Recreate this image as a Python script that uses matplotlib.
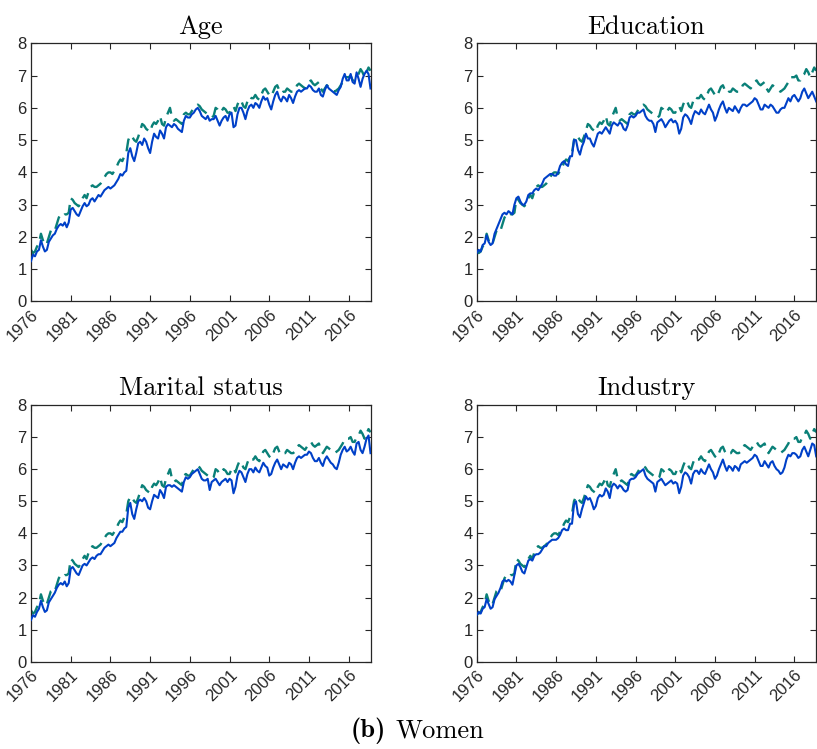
import numpy as np
import matplotlib
matplotlib.use("Agg")
import matplotlib.pyplot as plt

# ---------------- data (quarterly readings, 1976Q1 .. 2018Q4) ----------------
start_year = 1976
tick_years = [1976, 1981, 1986, 1991, 1996, 2001, 2006, 2011, 2016]
y_ticks = [0, 1, 2, 3, 4, 5, 6, 7, 8]
panel_titles = ["Age", "Education", "Marital status", "Industry"]
caption_bold = "(b)"
caption_text = "Women"

actual_gap = [
    1.6, 1.5, 1.55, 1.7,   1.8, 2.1, 1.9, 1.75,   1.8, 2.0, 2.2, 2.25,
    2.2, 2.4, 2.6, 2.7,    2.65, 2.7, 2.7, 2.75,  3.2, 3.15, 3.05, 3.0,
    2.95, 3.05, 3.2, 3.3,  3.2, 3.4, 3.55, 3.6,   3.55, 3.55, 3.6, 3.65,
    3.75, 3.85, 3.95, 4.0, 4.0, 3.95, 4.05, 4.15, 4.3, 4.4, 4.35, 4.5,
    4.6, 5.0, 5.15, 5.1,   5.0, 4.95, 5.1, 5.3,   5.5, 5.45, 5.35, 5.3,
    5.25, 5.45, 5.55, 5.5, 5.6, 5.75, 5.5, 5.45,  5.7, 5.85, 6.0, 5.7,
    5.6, 5.65, 5.6, 5.55,  5.5, 5.8, 5.85, 5.8,   5.8, 5.9, 6.0, 6.05,
    6.1, 6.05, 5.95, 5.9,  5.85, 5.8, 5.75, 5.7,  5.75, 6.0, 5.95, 5.85,
    5.9, 6.0, 5.95, 5.85,  5.85, 6.0, 6.05, 5.9,  6.1, 6.25, 6.2, 6.05,
    6.0, 6.2, 6.35, 6.3,   6.3, 6.4, 6.3, 6.25,   6.4, 6.55, 6.6, 6.5,
    6.4, 6.35, 6.5, 6.65,  6.7, 6.55, 6.45, 6.5,  6.5, 6.6, 6.55, 6.5,
    6.5, 6.55, 6.7, 6.75,  6.7, 6.65, 6.6, 6.7,   6.8, 6.85, 6.75, 6.7,
    6.75, 6.8, 6.6, 6.5,   6.6, 6.7, 6.65, 6.6,   6.55, 6.5, 6.55, 6.6,
    6.7, 6.8, 6.95, 6.95,  6.95, 7.0, 6.85, 6.85, 7.0, 7.05, 7.2, 7.1,
    6.95, 7.1, 7.25, 7.15,
]

age_gap = [
    1.25, 1.45, 1.4, 1.55,  1.6, 1.9, 1.7, 1.55,   1.6, 1.85, 1.95, 2.05,
    2.1, 2.25, 2.35, 2.4,   2.35, 2.45, 2.3, 2.45, 2.85, 2.9, 2.8, 2.7,
    2.65, 2.8, 2.95, 3.05,  2.95, 3.0, 3.15, 3.2,  3.1, 3.2, 3.3, 3.25,
    3.35, 3.45, 3.5, 3.55,  3.5, 3.55, 3.6, 3.7,   3.8, 3.95, 3.9, 4.0,
    4.05, 4.6, 4.75, 4.5,   4.35, 4.6, 4.9, 4.95,  4.85, 5.05, 4.95, 4.75,
    4.6, 4.95, 5.2, 5.1,    5.05, 5.3, 5.2, 5.05,  5.4, 5.5, 5.45, 5.4,
    5.5, 5.45, 5.35, 5.3,   5.25, 5.6, 5.75, 5.7,  5.7, 5.8, 5.85, 5.95,
    6.0, 5.9, 5.75, 5.7,    5.65, 5.75, 5.6, 5.65, 5.65, 5.75, 5.6, 5.45,
    5.6, 5.7, 5.75, 5.6,    5.8, 5.85, 5.4, 5.45,  5.8, 6.0, 6.0, 5.85,
    5.65, 5.9, 6.05, 6.1,   6.0, 6.15, 6.1, 6.0,   6.2, 6.35, 6.25, 6.3,
    6.1, 5.95, 6.2, 6.4,    6.5, 6.3, 6.2, 6.35,   6.3, 6.2, 6.4, 6.3,
    6.15, 6.35, 6.5, 6.55,  6.5, 6.55, 6.6, 6.6,   6.7, 6.65, 6.55, 6.5,
    6.5, 6.6, 6.4, 6.35,    6.55, 6.7, 6.6, 6.55,  6.5, 6.45, 6.4, 6.55,
    6.65, 6.9, 7.05, 6.85,  6.85, 7.05, 6.8, 6.75, 7.1, 6.9, 6.65, 6.9,
    7.05, 7.15, 7.05, 6.6,
]

education_gap = [
    1.5, 1.6, 1.55, 1.75,   1.8, 2.05, 1.85, 1.75,  1.8, 2.1, 2.25, 2.4,
    2.55, 2.7, 2.75, 2.7,   2.8, 2.75, 2.7, 3.0,    3.2, 3.25, 3.1, 3.0,
    3.0, 3.1, 3.3, 3.35,    3.35, 3.45, 3.5, 3.45,  3.55, 3.65, 3.8, 3.85,
    3.9, 3.95, 3.95, 3.9,   3.9, 4.0, 4.2, 4.3,     4.35, 4.25, 4.2, 4.5,
    4.5, 5.0, 5.0, 4.7,     4.55, 4.8, 4.95, 5.2,   5.05, 5.05, 4.9, 4.8,
    5.0, 5.2, 5.25, 5.2,    5.3, 5.4, 5.3, 5.2,     5.45, 5.55, 5.5, 5.45,
    5.55, 5.5, 5.35, 5.3,   5.45, 5.7, 5.75, 5.7,   5.75, 5.85, 5.85, 5.9,
    5.95, 5.75, 5.65, 5.6,  5.6, 5.5, 5.25, 5.55,   5.6, 5.65, 5.55, 5.4,
    5.5, 5.6, 5.65, 5.55,   5.6, 5.5, 5.2, 5.35,    5.7, 5.8, 5.75, 5.65,
    5.5, 5.75, 5.9, 5.85,   5.8, 5.95, 5.85, 5.8,   5.95, 6.1, 5.95, 5.85,
    5.6, 5.75, 5.95, 6.1,   6.2, 6.0, 5.85, 6.0,    5.95, 5.9, 6.05, 5.95,
    5.85, 6.0, 6.1, 6.1,    6.05, 6.1, 6.15, 6.2,   6.3, 6.25, 6.1, 5.95,
    5.95, 6.1, 6.05, 6.0,   6.1, 6.05, 5.95, 5.85,  5.85, 5.95, 6.0, 6.0,
    6.15, 6.3, 6.2, 6.35,   6.4, 6.3, 6.2, 6.3,     6.5, 6.6, 6.45, 6.3,
    6.4, 6.5, 6.35, 6.2,
]

marital_gap = [
    1.3, 1.45, 1.4, 1.55,   1.65, 1.9, 1.7, 1.55,   1.6, 1.85, 1.95, 2.05,
    2.15, 2.3, 2.4, 2.45,   2.4, 2.5, 2.35, 2.45,   2.9, 2.95, 2.85, 2.75,
    2.7, 2.85, 3.0, 3.05,   3.0, 3.1, 3.2, 3.25,    3.2, 3.3, 3.35, 3.35,
    3.45, 3.55, 3.6, 3.65,  3.6, 3.65, 3.7, 3.85,   3.95, 4.05, 4.05, 4.15,
    4.2, 4.8, 4.95, 4.6,    4.45, 4.75, 5.0, 5.05,  5.0, 5.1, 5.0, 4.8,
    4.75, 5.0, 5.2, 5.15,   5.1, 5.35, 5.25, 5.1,   5.45, 5.5, 5.5, 5.45,
    5.5, 5.45, 5.4, 5.35,   5.3, 5.6, 5.75, 5.7,    5.75, 5.85, 5.9, 5.95,
    6.0, 5.85, 5.7, 5.65,   5.65, 5.7, 5.35, 5.6,   5.65, 5.7, 5.6, 5.5,
    5.6, 5.65, 5.7, 5.6,    5.7, 5.65, 5.25, 5.45,  5.8, 5.95, 5.9, 5.75,
    5.6, 5.85, 6.0, 6.0,    5.9, 6.05, 5.95, 5.9,   6.05, 6.2, 6.1, 6.05,
    5.8, 5.85, 6.05, 6.2,   6.3, 6.15, 6.0, 6.15,   6.1, 6.05, 6.2, 6.15,
    6.0, 6.2, 6.35, 6.4,    6.35, 6.4, 6.45, 6.45,  6.55, 6.5, 6.35, 6.25,
    6.25, 6.35, 6.2, 6.1,   6.3, 6.4, 6.3, 6.2,     6.15, 6.05, 6.0, 6.2,
    6.45, 6.6, 6.7, 6.55,   6.6, 6.7, 6.55, 6.45,   6.8, 6.85, 6.6, 6.5,
    6.7, 6.95, 7.05, 6.5,
]

industry_gap = [
    1.45, 1.55, 1.5, 1.65,  1.7, 1.95, 1.8, 1.65,   1.7, 1.95, 2.05, 2.15,
    2.3, 2.5, 2.55, 2.5,    2.55, 2.5, 2.4, 2.7,    3.0, 3.05, 2.95, 2.8,
    2.75, 2.95, 3.15, 3.2,  3.15, 3.3, 3.35, 3.35,  3.4, 3.5, 3.6, 3.6,
    3.7, 3.75, 3.8, 3.8,    3.8, 3.85, 3.95, 4.1,   4.15, 4.1, 4.1, 4.3,
    4.3, 4.9, 5.0, 4.6,     4.5, 4.75, 4.95, 5.15,  5.05, 5.1, 4.95, 4.75,
    4.85, 5.1, 5.2, 5.15,   5.2, 5.4, 5.3, 5.1,     5.45, 5.55, 5.5, 5.4,
    5.5, 5.45, 5.35, 5.3,   5.35, 5.65, 5.7, 5.7,   5.75, 5.85, 5.9, 5.95,
    6.0, 5.8, 5.7, 5.65,    5.6, 5.55, 5.3, 5.6,    5.65, 5.7, 5.6, 5.5,
    5.55, 5.6, 5.65, 5.55,  5.6, 5.55, 5.25, 5.45,  5.8, 5.9, 5.85, 5.75,
    5.55, 5.85, 5.95, 5.95, 5.85, 6.0, 5.9, 5.85,   6.0, 6.15, 6.0, 5.9,
    5.7, 5.8, 6.0, 6.15,    6.3, 6.1, 5.95, 6.1,    6.05, 5.95, 6.1, 6.05,
    5.95, 6.15, 6.2, 6.25,  6.2, 6.25, 6.3, 6.35,   6.45, 6.4, 6.25, 6.1,
    6.1, 6.25, 6.15, 6.05,  6.2, 6.25, 6.1, 6.0,    5.95, 5.85, 5.9, 6.05,
    6.3, 6.45, 6.4, 6.5,    6.5, 6.45, 6.35, 6.4,   6.6, 6.7, 6.55, 6.4,
    6.6, 6.8, 6.75, 6.4,
]

panel_series = [age_gap, education_gap, marital_gap, industry_gap]

# ---------------- figure ----------------
W, H = 817, 749
fig = plt.figure(figsize=(W / 100, H / 100), dpi=100)

def px_axes(x0, x1, ytop, ybot):
    return fig.add_axes([x0 / W, 1 - ybot / H, (x1 - x0) / W, (ybot - ytop) / H])

boxes = [
    (31, 370.5, 43.3, 301.5),
    (476.7, 816.2, 43.3, 301.5),
    (31, 370.5, 405, 661.7),
    (476.7, 816.2, 405, 661.7),
]

t = start_year + np.arange(len(actual_gap)) / 4.0

teal = "#0a8078"
blue = "#0040c8"
axis_col = "#262626"
tick_font = "Liberation Sans"

for box, title, series in zip(boxes, panel_titles, panel_series):
    ax = px_axes(*box)
    ax.plot(t, actual_gap, color=teal, lw=1.7, ls=(0, (5.5, 3.0)), zorder=2)
    ax.plot(t, np.asarray(series), color=blue, lw=1.5, zorder=3)
    ax.set_xlim(t[0], t[-1])
    ax.set_ylim(0, 8)
    ax.set_xticks(tick_years)
    ax.set_yticks(y_ticks)
    ax.set_xticklabels([str(y) for y in tick_years], rotation=45, ha="right",
                       rotation_mode="anchor", fontfamily=tick_font, fontsize=12,
                       color=axis_col)
    ax.set_yticklabels([str(v) for v in y_ticks], fontfamily=tick_font,
                       fontsize=12, color=axis_col)
    ax.tick_params(direction="in", length=4, width=0.8, top=True, right=True,
                   color=axis_col, pad=3)
    ax.tick_params(axis="x", pad=4)
    for s in ax.spines.values():
        s.set_color(axis_col)
        s.set_linewidth(0.9)
    ax.set_title(title, fontfamily="cmr10", fontsize=19, pad=7, color="black")

# caption
cap_y = 1 - 731 / H
fig.text(0.4725, cap_y, caption_bold, fontfamily="cmb10", fontsize=19,
         ha="right", va="center")
fig.text(0.4725 + 9 / W, cap_y, caption_text, fontfamily="cmr10", fontsize=19,
         ha="left", va="center")

fig.savefig("out.png", dpi=100)
